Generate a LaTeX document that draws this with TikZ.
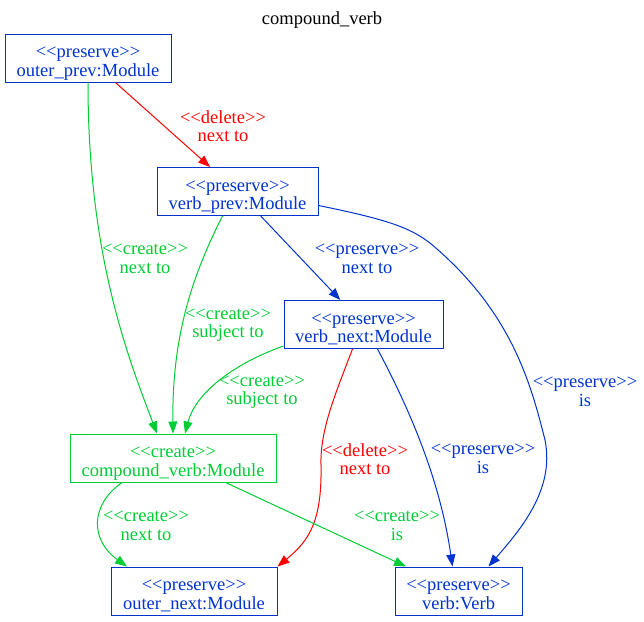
\documentclass[tikz,border=0pt]{standalone}
\usepackage{fontspec}
\setmainfont{Liberation Serif}[Ligatures=TeXOff]
\usetikzlibrary{arrows.meta}
\definecolor{keep}{RGB}{0,51,204}
\definecolor{make}{RGB}{0,204,51}
\definecolor{drop}{RGB}{255,0,0}

\begin{document}
\begin{tikzpicture}[
    x = 1pt, y = -1pt,
    every node/.style = {font = \fontsize{18.5pt}{18.5pt}\selectfont, align = center},
    obj/.style = {draw, rectangle, minimum height = 48pt, inner sep = 2pt, line width = 1pt,
                  text height = 40pt, text depth = 4pt},
    link/.style = {-{Triangle[length = 12pt, width = 9pt]}, line width = 1pt}]

\useasboundingbox (0,0) rectangle (644,621);

\node (title) at (322,20) {compound\_verb};

\node[obj, keep, minimum width = 166pt] (outerprev) at (88,58) {<<preserve>>\\outer\_prev:Module};
\node[obj, keep, minimum width = 161pt] (verbprev) at (237.5,191.5) {<<preserve>>\\verb\_prev:Module};
\node[obj, keep, minimum width = 159pt] (verbnext) at (363.5,324.5) {<<preserve>>\\verb\_next:Module};
\node[obj, make, minimum width = 206pt] (compoundverb) at (173,458) {<<create>>\\compound\_verb:Module};
\node[obj, keep, minimum width = 166pt] (outernext) at (194,591) {<<preserve>>\\outer\_next:Module};
\node[obj, keep, minimum width = 127pt] (verb) at (458.5,591) {<<preserve>>\\verb:Verb};

% edges
\draw[link, drop] (outerprev) -- (verbprev);
\draw[link, make] (outerprev.south) .. controls (88,250) and (125,350) .. ([xshift=-16pt]compoundverb.north);
\draw[link, make] ([xshift=-15pt]verbprev.south) .. controls (190,280) and (172,340) .. (compoundverb.north);
\draw[link, keep] (verbprev) -- (verbnext);
\draw[link, keep] ([yshift=-14pt]verbprev.east) .. controls (390,220) and (410,228) .. (430,243)
      .. controls (510,310) and (530,380) .. (545,440)
      .. controls (555,490) and (520,530) .. ([xshift=30pt]verb.north);
\draw[link, make] ([yshift=3pt]verbnext.south west) .. controls (230,365) and (195,395) .. ([xshift=12pt]compoundverb.north);
\draw[link, drop] ([xshift=-11pt]verbnext.south) .. controls (335,395) and (320,430) .. (321,465)
      .. controls (322,520) and (310,540) .. (outernext.north east);
\draw[link, keep] ([xshift=14pt]verbnext.south) .. controls (410,410) and (440,480) .. ([xshift=-6pt]verb.north);
\draw[link, make] ([xshift=-51pt]compoundverb.south) .. controls (90,505) and (90,540) .. ([xshift=-67pt]outernext.north);
\draw[link, make] (compoundverb) -- (verb);

% edge labels
\node[drop] (lbldelA) at (223,126) {<<delete>>\\next to};
\node[make] (lblnextA) at (145,259) {<<create>>\\next to};
\node[make] (lblsubjA) at (228,325) {<<create>>\\subject to};
\node[keep] (lblnextB) at (367,259) {<<preserve>>\\next to};
\node[keep] (lblisA) at (585,392) {<<preserve>>\\is};
\node[make] (lblsubjB) at (262,392) {<<create>>\\subject to};
\node[drop] (lbldelB) at (365,459) {<<delete>>\\next to};
\node[keep] (lblisB) at (483,459) {<<preserve>>\\is};
\node[make] (lblnextC) at (146,526) {<<create>>\\next to};
\node[make] (lblisC) at (397,526) {<<create>>\\is};
\end{tikzpicture}
\end{document}
